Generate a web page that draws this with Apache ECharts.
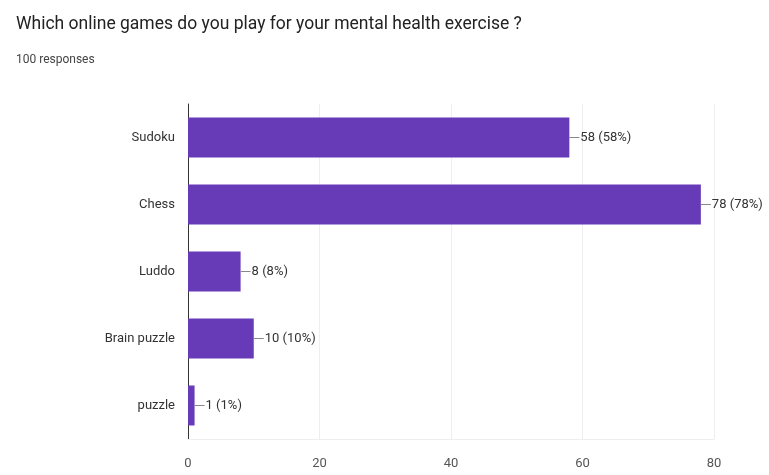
<!DOCTYPE html>
<html>
<head>
<meta charset="utf-8">
<script src="https://cdn.jsdelivr.net/npm/echarts@6/dist/echarts.min.js"></script>
<style>
  html, body { margin: 0; padding: 0; background: #fff; }
  #chart { width: 769px; height: 475px; }
</style>
</head>
<body>
<div id="chart"></div>
<script>
const categories = ['Sudoku', 'Chess', 'Luddo', 'Brain puzzle', 'puzzle']
const counts = [58, 78, 8, 10, 1]
const percents = [58, 78, 8, 10, 1]
const xTicks = [0, 20, 40, 60, 80]

const chart = echarts.init(document.getElementById('chart'))
const fontFam = 'Roboto, sans-serif'

const option = {
  backgroundColor: '#fff',
  title: [
    {
      text: 'Which online games do you play for your mental health exercise ?',
      left: 11,
      top: 11,
      textStyle: { fontFamily: fontFam, fontSize: 17.5, fontWeight: 'normal', color: '#222' }
    },
    {
      text: '100 responses',
      left: 11,
      top: 49,
      textStyle: { fontFamily: fontFam, fontSize: 12, fontWeight: 'normal', color: '#444' }
    }
  ],
  grid: { left: 188, right: 55, top: 104, bottom: 36 },
  xAxis: {
    type: 'value',
    min: xTicks[0],
    max: xTicks[xTicks.length - 1],
    interval: 20,
    axisLine: { show: true, lineStyle: { color: '#eeeeee' } },
    axisTick: { show: false },
    splitLine: { show: true, lineStyle: { color: '#eeeeee' } },
    axisLabel: { margin: 18, fontFamily: fontFam, fontSize: 13, color: '#555' }
  },
  yAxis: {
    type: 'category',
    inverse: true,
    data: categories,
    axisLine: { show: true, lineStyle: { color: '#333', width: 1 } },
    axisTick: { show: false },
    axisLabel: { margin: 13, fontFamily: fontFam, fontSize: 13, color: '#333' }
  },
  series: [
    {
      type: 'bar',
      data: counts,
      barWidth: 40,
      itemStyle: { color: '#673ab7' },
      label: {
        show: true,
        position: 'right',
        distance: 0,
        formatter: (p) => '{l|}{v|' + counts[p.dataIndex] + ' (' + percents[p.dataIndex] + '%)}',
        rich: {
          l: { width: 10, height: 1, backgroundColor: '#888' },
          v: { fontFamily: fontFam, fontSize: 13, color: '#333', padding: [0, 0, 0, 1] }
        }
      }
    }
  ]
}
chart.setOption(option)
</script>
</body>
</html>
